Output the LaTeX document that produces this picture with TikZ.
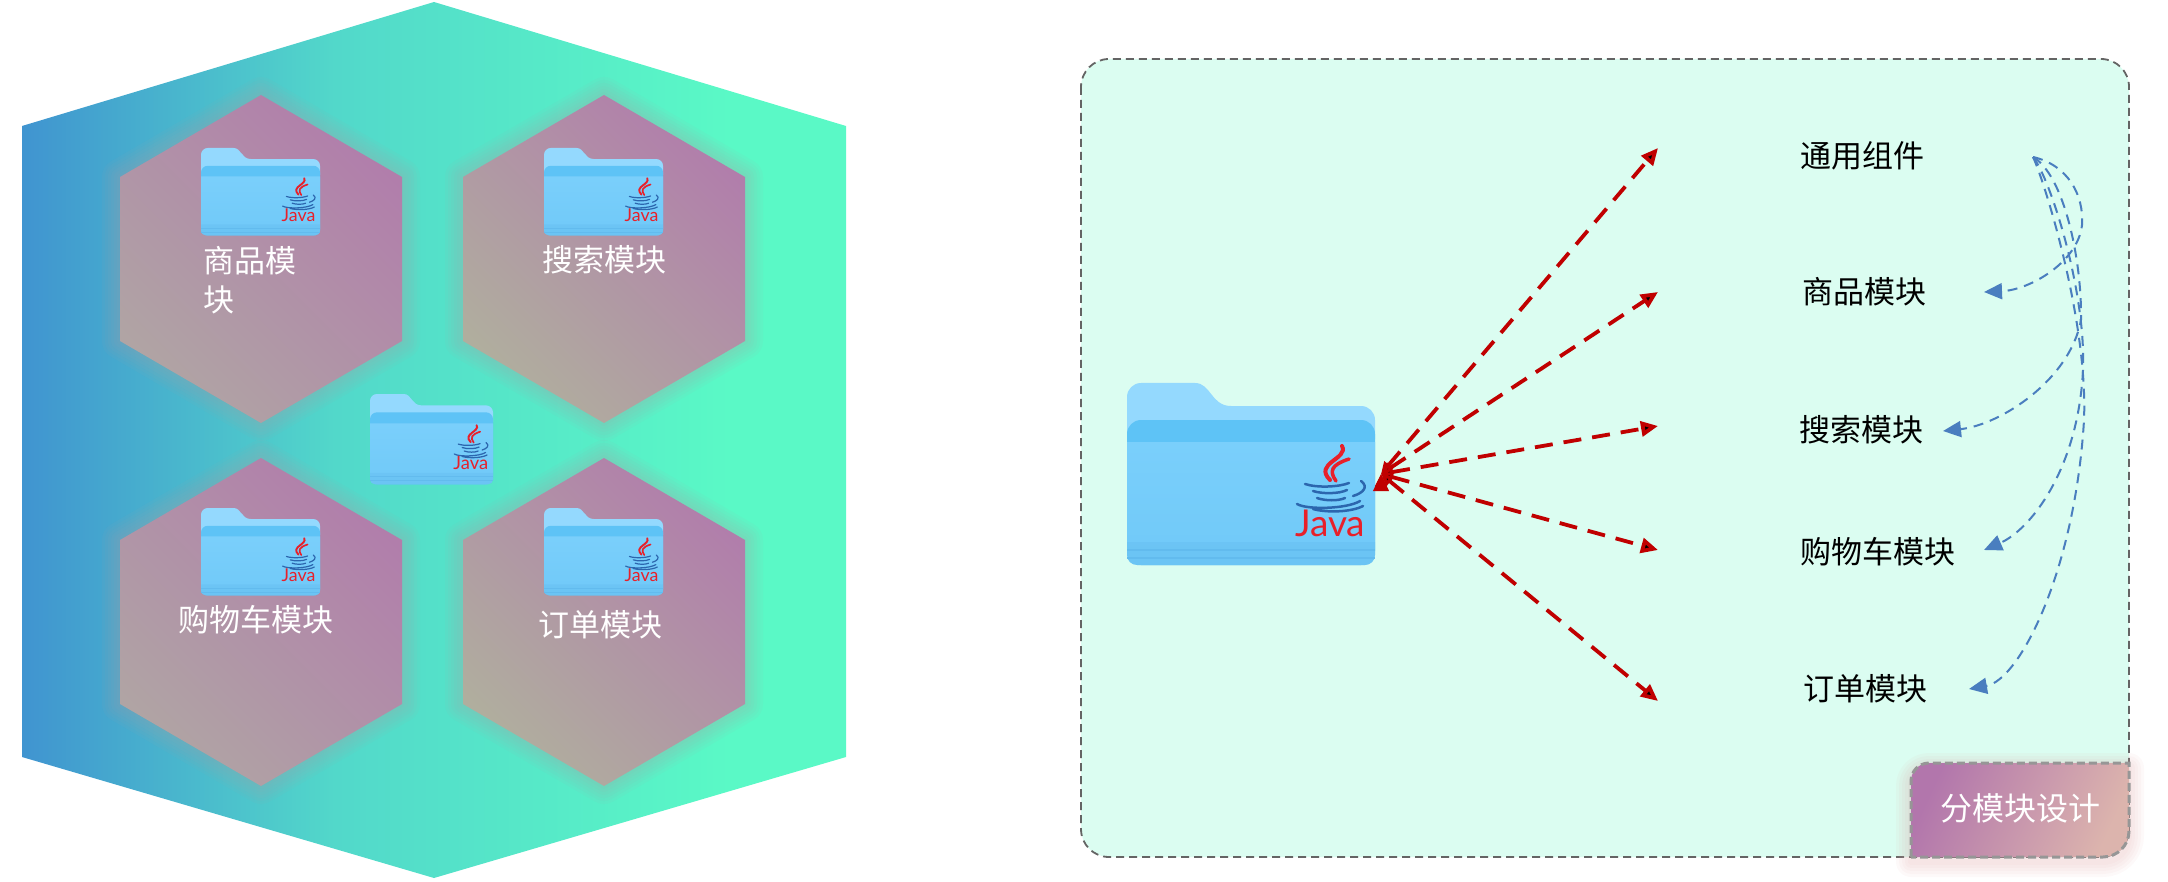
\documentclass[tikz,border=0pt]{standalone}
\usepackage{fontspec}
\usetikzlibrary{arrows.meta}
\newfontfamily\cjk{Noto Sans CJK SC}
\newfontfamily\javafont{Lato}
\definecolor{javared}{HTML}{E8202A}
\definecolor{javablue}{HTML}{2C66AE}
\definecolor{redline}{HTML}{C00000}
\definecolor{blueline}{HTML}{4A7EBF}
\definecolor{folderback}{HTML}{94D9FE}
\definecolor{folderband}{HTML}{5EC3F6}
\definecolor{folderfront}{HTML}{7ACFFB}
\definecolor{folderlow}{HTML}{70C9F8}
\definecolor{folderstripe}{HTML}{62BBEE}
\definecolor{bigleft}{HTML}{4094D0}
\definecolor{bigmid}{HTML}{52D8CA}
\definecolor{bigright}{HTML}{5AF9C6}
\definecolor{hextop}{HTML}{B17EAB}
\definecolor{hexpink}{HTML}{B0A4A4}
\definecolor{hextan}{HTML}{B0AE9E}
\definecolor{hexglow}{HTML}{AFA0A6}
\definecolor{boxfill}{HTML}{DBFDF1}
\definecolor{boxline}{HTML}{646464}
\definecolor{tabstart}{HTML}{B276AC}
\definecolor{tabend}{HTML}{DCB4AD}
\definecolor{tabline}{HTML}{969696}
\definecolor{tabglow}{HTML}{E1AAAA}
\pgfdeclarehorizontalshading{bighex}{100bp}{color(0bp)=(bigleft); color(25bp)=(bigleft); color(44bp)=(bigmid); color(68bp)=(bigright); color(100bp)=(bigright)}
\newcommand{\hexpath}[2]{(#1,#2) +(0,-164) -- +(141,-82) -- +(141,82) -- +(0,164) -- +(-141,82) -- +(-141,-82) -- cycle}
\newcommand{\tabpath}{(1911,857) [rounded corners=18pt] -- (1911,763) [sharp corners] -- (2129,763) [rounded corners=26pt] -- (2129,857) [sharp corners] -- cycle}
\tikzset{
  pics/javafolder/.style={code={
    \begin{scope}[scale=#1]
      \fill[folderback] (0,60) [rounded corners=#1*14pt] -- (0,0) [sharp corners] -- (68,0) .. controls (84,0) and (84,23) .. (104,23) [rounded corners=#1*14pt] -- (248,23) -- (248,70) [sharp corners] -- cycle;
      \fill[folderband,rounded corners=#1*14pt] (0,182) -- (0,37) -- (248,37) -- (248,182) -- cycle;
      \path[top color=folderfront,bottom color=folderlow] (0,59) -- (248,59) [rounded corners=#1*10pt] -- (248,182) -- (0,182) [sharp corners] -- cycle;
      \fill[folderstripe,opacity=.35] (0,159) -- (248,159) [rounded corners=#1*10pt] -- (248,182) -- (0,182) [sharp corners] -- cycle;
      \draw[folderstripe,line width=#1*1.5pt] (0,167) -- (248,167) (0,175) -- (248,175);
      \draw[javared,line width=#1*4pt,line cap=round] (215,63) .. controls (222,76) and (186,80) .. (203,97);
      \draw[javared,line width=#1*3.5pt,line cap=round] (222,76) .. controls (204,82) and (202,88) .. (209,98);
      \draw[javablue,line width=#1*2.5pt,line cap=round]
        (178,101) .. controls (190,105) and (212,104) .. (222,100)
        (234,98) .. controls (242,104) and (236,110) .. (226,113)
        (186,108) .. controls (195,111) and (212,111) .. (220,107)
        (190,115) .. controls (198,118) and (212,118) .. (218,115)
        (170,121) .. controls (180,127) and (220,126) .. (233,118)
        (186,126) .. controls (200,130) and (225,129) .. (236,123);
      \node[font=\javafont\fontsize{37}{37}\selectfont,text=javared,transform shape,anchor=base west,inner sep=0pt] (-word) at (168,153) {Java};
      \coordinate (-port) at (254,91);
    \end{scope}
  }}
}
\begin{document}
\begin{tikzpicture}[x=1pt,y=-1pt,
    hexlabel/.style={font=\cjk\fontsize{31}{39}\selectfont,text=white,inner sep=0pt,align=left},
    modlabel/.style={font=\cjk\fontsize{31}{39}\selectfont,text=black,inner sep=0pt},
    redarrow/.style={draw=redline,line width=3.8pt,dash pattern=on 18pt off 11pt,{Triangle[length=12pt,width=11pt]}-{Triangle[length=17pt,width=15pt]}},
    bluearrow/.style={draw=blueline,line width=2pt,dash pattern=on 10pt off 7pt,-{Triangle[length=18pt,width=16pt]}}]
  \useasboundingbox (0,0) rectangle (2168,882);

  % left block
  \path[shading=bighex,shading angle=0]
    (434,2) -- (846,126) -- (846,757) -- (434,878) -- (22,757) -- (22,126) -- cycle;
  \foreach \hx/\hy/\hlow in {261/259/hexpink,604/259/hextan,261/622/hexpink,604/622/hextan} {
    \foreach \w in {6,12,18,24,30,36}
      \draw[draw=hexglow,opacity=.06,line width=\w pt,line join=round] \hexpath{\hx}{\hy};
    \path[top color=hextop,bottom color=\hlow,shading angle=-45] \hexpath{\hx}{\hy};
  }
  \pic (cellone) at (201,148) {javafolder=.48};
  \pic (celltwo) at (544,148) {javafolder=.48};
  \pic (cellthree) at (201,508) {javafolder=.48};
  \pic (cellfour) at (544,508) {javafolder=.48};
  \pic (centerfolder) at (370,394) {javafolder=.496};
  \node[hexlabel] (goodstext) at (250,280) {商品模\\块};
  \node[hexlabel] (searchtext) at (604,260) {搜索模块};
  \node[hexlabel] (carttext) at (256,620) {购物车模块};
  \node[hexlabel] (ordertext) at (600,625) {订单模块};

  % right block
  \path[fill=boxfill,draw=boxline,line width=1.8pt,dash pattern=on 8pt off 5pt,rounded corners=28pt]
    (1081,59) rectangle (2129,857);
  \pic (mainfolder) at (1127,383) {javafolder=1};

  \node[modlabel] (common) at (1862,156) {通用组件};
  \node[modlabel] (goods) [below of=common,node distance=136pt,xshift=2pt] {商品模块};
  \node[modlabel] (search) [below of=goods,node distance=138pt,xshift=-3pt] {搜索模块};
  \node[modlabel] (cart) [below of=search,node distance=122pt,xshift=17pt] {购物车模块};
  \node[modlabel] (order) [below of=cart,node distance=137pt,xshift=-13pt] {订单模块};

  \coordinate (redcommon) at (1658,148);
  \coordinate (redgoods) at (1658,292);
  \coordinate (redsearch) at (1658,426);
  \coordinate (redcart) at (1658,550);
  \coordinate (redorder) at (1658,701);
  \path[redarrow]
    (mainfolder-port) edge (redcommon)
    (mainfolder-port) edge (redgoods)
    (mainfolder-port) edge (redsearch)
    (mainfolder-port) edge (redcart)
    (mainfolder-port) edge (redorder);

  \coordinate (hub) at (2033,157);
  \coordinate (bluegoods) at (1984,292);
  \coordinate (bluesearch) at (1943,431);
  \coordinate (bluecart) at (1984,550);
  \coordinate (blueorder) at (1969,689);
  \draw[bluearrow] (hub) .. controls (2068,165) and (2084,195) .. (2082,225) .. controls (2078,262) and (2030,290) .. (bluegoods);
  \draw[bluearrow] (hub) .. controls (2064,175) and (2082,260) .. (2081,320) .. controls (2070,380) and (2000,425) .. (bluesearch);
  \draw[bluearrow] (hub) .. controls (2050,178) and (2086,290) .. (2083,370) .. controls (2078,470) and (2030,530) .. (bluecart);
  \draw[bluearrow] (hub) .. controls (2044,180) and (2088,320) .. (2084,420) .. controls (2075,570) and (2020,680) .. (blueorder);

  % tab in the corner
  \foreach \w in {6,12,18,24,30}
    \draw[draw=tabglow,opacity=.07,line width=\w pt,line join=round,yshift=-5pt] \tabpath;
  \path[top color=tabstart,bottom color=tabend,shading angle=65,draw=tabline,line width=3pt,dash pattern=on 8pt off 4pt] \tabpath;
  \node[font=\cjk\fontsize{32}{38}\selectfont,text=white,inner sep=0pt] (tabtext) at (2020,808) {分模块设计};
\end{tikzpicture}
\end{document}
